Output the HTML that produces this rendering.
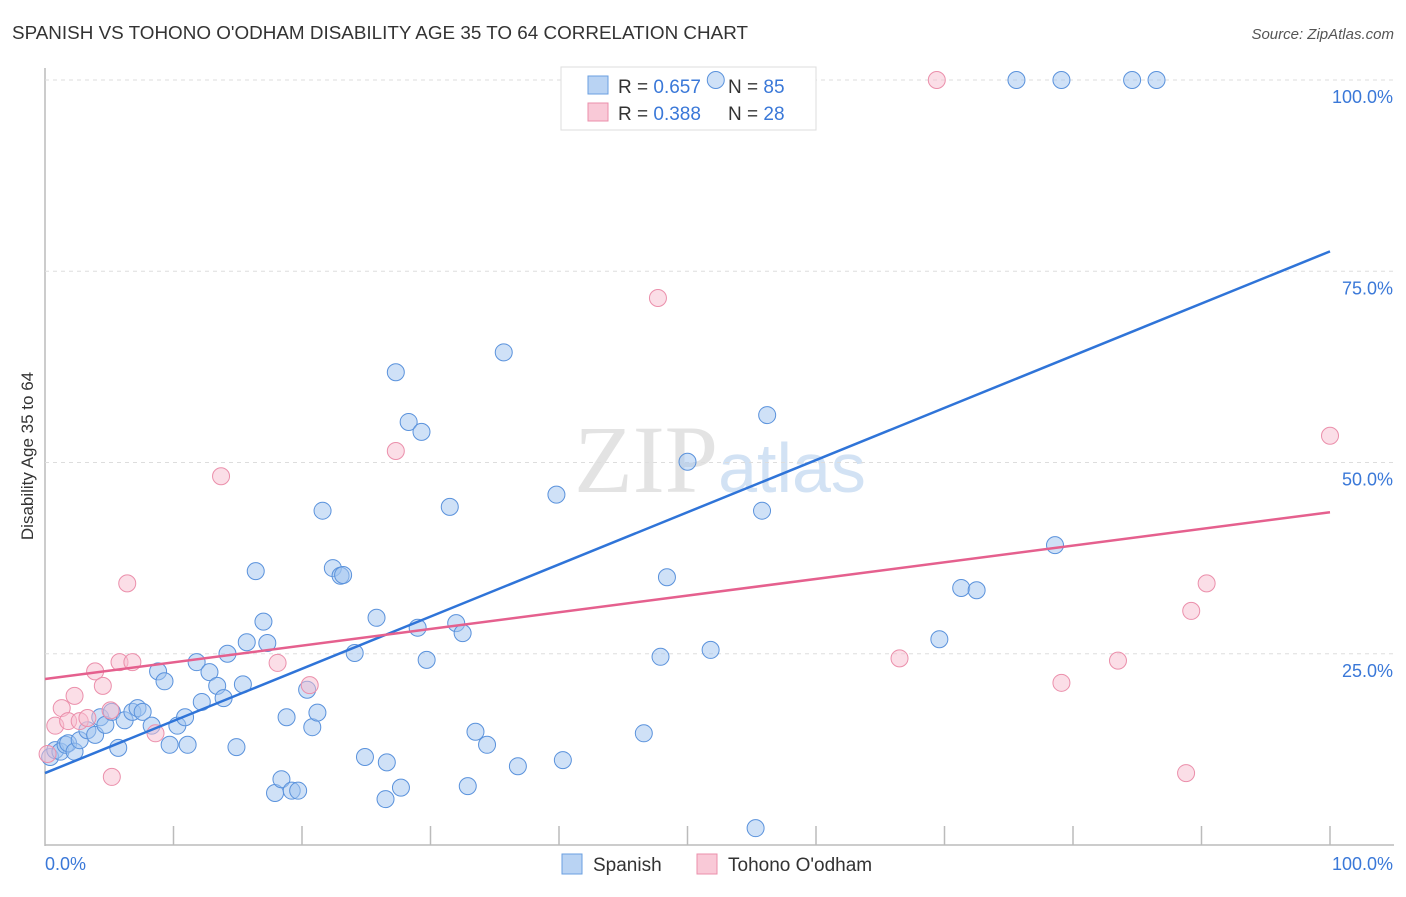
<!DOCTYPE html>
<html><head><meta charset="utf-8"><style>
body{margin:0;background:#fff;font-family:"Liberation Sans",sans-serif}
</style></head><body>
<svg id="c" width="1406" height="892" xmlns="http://www.w3.org/2000/svg">
<text x="12" y="39" font-size="18" fill="#333" textLength="736" lengthAdjust="spacingAndGlyphs">SPANISH VS TOHONO O'ODHAM DISABILITY AGE 35 TO 64 CORRELATION CHART</text>
<text x="1394" y="39" font-size="15" fill="#555" font-style="italic" text-anchor="end">Source: ZipAtlas.com</text>
<text x="720" y="492" font-size="96" fill="#e3e3e3" text-anchor="middle" font-family="Liberation Serif">ZIP<tspan fill="#d2e2f4" font-family="Liberation Sans" font-size="70">atlas</tspan></text>
<text transform="translate(33,456) rotate(-90)" font-size="17" fill="#333" text-anchor="middle">Disability Age 35 to 64</text>
<g id="grid"></g>
<g>
<rect x="561" y="67" width="255" height="63" fill="#fff" stroke="#ddd"/>
<rect x="588" y="76" width="20" height="18" fill="#b9d3f3" stroke="#6a9fe0"/>
<rect x="588" y="103" width="20" height="18" fill="#f9c9d7" stroke="#eb8fab"/>
<text x="618" y="93" font-size="19" fill="#333">R = <tspan fill="#3a78d8">0.657</tspan></text>
<text x="728" y="93" font-size="19" fill="#333">N = <tspan fill="#3a78d8">85</tspan></text>
<text x="618" y="120" font-size="19" fill="#333">R = <tspan fill="#3a78d8">0.388</tspan></text>
<text x="728" y="120" font-size="19" fill="#333">N = <tspan fill="#3a78d8">28</tspan></text>
</g>
<g id="pts"></g><g id="lines"></g>
<g>
<rect x="562" y="854" width="20" height="20" fill="#b9d3f3" stroke="#6a9fe0"/>
<text x="593" y="871" font-size="19" fill="#333">Spanish</text>
<rect x="697" y="854" width="20" height="20" fill="#f9c9d7" stroke="#eb8fab"/>
<text x="728" y="871" font-size="19" fill="#333">Tohono O'odham</text>
</g>
</svg>
<script>
const blueX=[0.4,0.8,1.2,1.6,1.8,2.3,2.7,3.3,3.9,4.3,4.7,5.2,5.7,6.2,6.8,7.2,7.6,8.3,8.8,9.3,9.7,10.3,10.9,11.1,11.8,12.2,12.8,13.4,13.9,14.2,14.9,15.4,15.7,16.4,17.0,17.3,17.9,18.4,18.8,19.2,19.7,20.4,20.8,21.2,21.6,22.4,23.0,23.2,24.1,24.9,25.8,26.5,26.6,27.3,27.7,28.3,29.0,29.3,29.7,31.5,32.0,32.5,32.9,33.5,34.4,35.7,36.8,39.8,40.3,46.6,47.9,48.4,50.0,51.8,52.2,55.3,55.8,56.2,69.6,71.3,72.5,75.6,78.6,79.1,84.6,86.5];
const blueY=[11.5,12.4,12.2,13.1,13.3,12.2,13.7,15.0,14.4,16.7,15.7,17.4,12.7,16.3,17.4,17.9,17.4,15.6,22.7,21.4,13.1,15.6,16.7,13.1,23.9,18.7,22.6,20.8,19.2,25.0,12.8,21.0,26.5,35.8,29.2,26.4,6.8,8.6,16.7,7.1,7.1,20.3,15.4,17.3,43.7,36.2,35.2,35.3,25.1,11.5,29.7,6.0,10.8,61.8,7.5,55.3,28.4,54.0,24.2,44.2,29.0,27.7,7.7,14.8,13.1,64.4,10.3,45.8,11.1,14.6,24.6,35.0,50.1,25.5,100,2.2,43.7,56.2,26.9,33.6,33.3,100,39.2,100,100,100];
const pinkX=[0.2,0.8,1.3,1.8,2.3,2.7,3.3,3.9,4.5,5.1,5.2,5.8,6.4,6.8,8.6,13.7,18.1,20.6,27.3,47.7,66.5,69.4,79.1,83.5,88.8,89.2,90.4,100];
const pinkY=[11.9,15.6,17.9,16.2,19.5,16.2,16.6,22.7,20.8,17.6,8.9,23.9,34.2,23.9,14.6,48.2,23.8,20.9,51.5,71.5,24.4,100,21.2,24.1,9.4,30.6,34.2,53.5];
const blueTrend=[9.4,77.6];
const pinkTrend=[21.7,43.5];
const yTicks=[25,50,75,100];
const yTickLabels=["25.0%","50.0%","75.0%","100.0%"];
const xTicks=[10,20,30,40,50,60,70,80,90,100];
const NS="http://www.w3.org/2000/svg";
const X=v=>45+v*12.85, Y=v=>845-v*7.65;
function mk(tag,attrs,parent){const e=document.createElementNS(NS,tag);for(const k in attrs)e.setAttribute(k,attrs[k]);parent.appendChild(e);return e;}
const svg=document.getElementById('c'),grid=document.getElementById('grid'),pts=document.getElementById('pts'),lines=document.getElementById('lines');
let ax=mk('line',{x1:45,y1:68,x2:45,y2:846,stroke:'#bbb','stroke-width':1.5},grid);


let bx=mk('line',{x1:45,y1:845,x2:1394,y2:845,stroke:'#bbb','stroke-width':1.5},grid);


yTicks.forEach((t,i)=>{
 let g=mk('line',{x1:45,y1:Y(t),x2:1394,y2:Y(t),stroke:'#ddd','stroke-dasharray':'4,4'},grid);
 
 
 let l=mk('text',{x:1393,y:Y(t)+23,'font-size':18,fill:'#3a78d8','text-anchor':'end'},grid);
 l.textContent=yTickLabels[i];
 
 
});
xTicks.forEach(t=>{
 let k=mk('line',{x1:X(t),y1:826,x2:X(t),y2:845,stroke:'#bbb','stroke-width':1.5},grid);
 
 
});
let x0=mk('text',{x:45,y:870,'font-size':18,fill:'#3a78d8'},grid);x0.textContent='0.0%';


let x1=mk('text',{x:1393,y:870,'font-size':18,fill:'#3a78d8','text-anchor':'end'},grid);x1.textContent='100.0%';


blueX.forEach((v,i)=>{
 let c=mk('circle',{cx:X(v),cy:Y(blueY[i]),r:8.5,fill:'rgba(160,196,240,0.5)',stroke:'#5a92dc','stroke-width':1},pts);
 
 
});
pinkX.forEach((v,i)=>{
 let c=mk('circle',{cx:X(v),cy:Y(pinkY[i]),r:8.5,fill:'rgba(248,190,208,0.5)',stroke:'#eb8fab','stroke-width':1},pts);
 
 
});
let bl=mk('line',{x1:X(0),y1:Y(blueTrend[0]),x2:X(100),y2:Y(blueTrend[1]),stroke:'#2f74d8','stroke-width':2.5},lines);


let pl=mk('line',{x1:X(0),y1:Y(pinkTrend[0]),x2:X(100),y2:Y(pinkTrend[1]),stroke:'#e5608e','stroke-width':2.5},lines);


</script>
</body></html>
